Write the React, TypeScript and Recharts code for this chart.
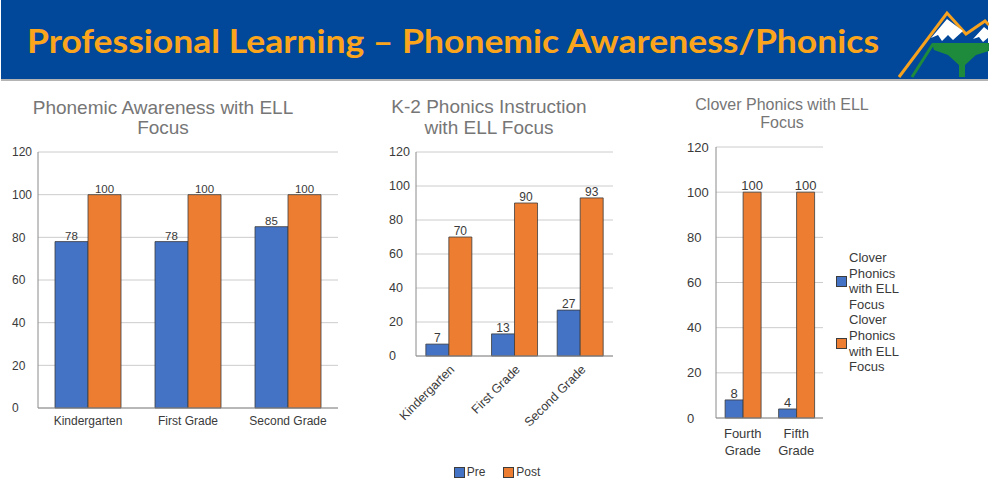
import React from 'react';
import { Bar, BarChart, CartesianGrid, LabelList, Legend, XAxis, YAxis } from 'recharts';

const gradesK2 = ['Kindergarten', 'First Grade', 'Second Grade'];
const awarenessPre = [78, 78, 85];
const awarenessPost = [100, 100, 100];

const phonicsPre = [7, 13, 27];
const phonicsPost = [70, 90, 93];

const gradesUpper = ['Fourth Grade', 'Fifth Grade'];
const cloverPre = [8, 4];
const cloverPost = [100, 100];

const yTicks = [0, 20, 40, 60, 80, 100, 120];

const BLUE = '#4472c4';
const ORANGE = '#ed7d31';
const OUTLINE = '#3c3c3c';
const GRID = '#cccccc';
const AXIS = '#8a8a8a';
const INK = '#3a3a3a';
const TITLE = '#767676';
const FONT = '"Liberation Sans", Arial, sans-serif';

const toRows = (cats: string[], pre: number[], post: number[]) =>
  cats.map((name, i) => ({ name, pre: pre[i], post: post[i] }));

const awarenessData = toRows(gradesK2, awarenessPre, awarenessPost);
const phonicsData = toRows(gradesK2, phonicsPre, phonicsPost);
const cloverData = toRows(gradesUpper, cloverPre, cloverPost);

// y labels in the source are left-aligned at a fixed x
function LeftTick({ y, payload, labelX, fontSize }: any) {
  return (
    <text x={labelX} y={y} dy="0.35em" textAnchor="start" fill={INK} fontSize={fontSize} fontFamily={FONT}>
      {payload.value}
    </text>
  );
}

function SlantTick({ x, y, payload }: any) {
  return (
    <g transform={`translate(${x},${y})`}>
      <text textAnchor="end" dy="0.71em" transform="rotate(-45)" fill={INK} fontSize={12.5} fontFamily={FONT}>
        {payload.value}
      </text>
    </g>
  );
}

function TwoLineTick({ x, y, payload }: any) {
  const words = String(payload.value).split(' ');
  return (
    <text x={x} y={y} textAnchor="middle" fill={INK} fontSize={13} fontFamily={FONT}>
      <tspan x={x} dy={11.5}>{words[0]}</tspan>
      <tspan x={x} dy={17}>{words[1]}</tspan>
    </text>
  );
}

function Swatch({ color }: { color: string }) {
  return (
    <span
      style={{
        display: 'inline-block',
        width: 9,
        height: 9,
        background: color,
        border: `1px solid ${OUTLINE}`,
        flexShrink: 0,
      }}
    />
  );
}

function PrePostLegend() {
  return (
    <div style={{ display: 'flex', justifyContent: 'center', alignItems: 'center', height: 20, fontFamily: FONT, fontSize: 12, color: INK }}>
      <Swatch color={BLUE} />
      <span style={{ marginLeft: 2, marginRight: 18 }}>Pre</span>
      <Swatch color={ORANGE} />
      <span style={{ marginLeft: 2 }}>Post</span>
    </div>
  );
}

function CloverLegend() {
  const item = (color: string) => (
    <div style={{ display: 'flex', alignItems: 'center' }}>
      <Swatch color={color} />
      <span style={{ marginLeft: 2, width: 56, lineHeight: '15.6px' }}>Clover Phonics with ELL Focus</span>
    </div>
  );
  return (
    <div style={{ fontFamily: FONT, fontSize: 13, color: INK }}>
      {item(BLUE)}
      {item(ORANGE)}
    </div>
  );
}

function ChartTitle({ lines, centerX, top, fontSize, lineHeight }: any) {
  return (
    <div
      style={{
        position: 'absolute',
        left: centerX - 160,
        top,
        width: 320,
        textAlign: 'center',
        fontFamily: FONT,
        fontSize,
        lineHeight: `${lineHeight}px`,
        color: TITLE,
      }}
    >
      {lines.map((l: string) => (
        <div key={l}>{l}</div>
      ))}
    </div>
  );
}

function Header() {
  return (
    <svg width={989} height={82} style={{ position: 'absolute', left: 0, top: 0 }}>
      <rect x={1} y={0} width={987} height={79} fill="#01479a" />
      <rect x={1} y={79} width={987} height={2} fill="#b4b4b4" />
      <text
        x={27}
        y={53}
        fill="#fba51c"
        fontFamily="Lato, 'Open Sans', sans-serif"
        fontWeight={700}
        fontSize={33}
        textLength={852}
        lengthAdjust="spacingAndGlyphs"
      >
        Professional Learning – Phonemic Awareness/Phonics
      </text>
      {/* mountain logo */}
      <polyline points="899,77 947,13 966,34 985,21 989,25" fill="none" stroke="#f6a21e" strokeWidth={3} />
      <polygon points="947,19 931,38 938,35 942,41 948,35 953,40 963,31" fill="#ffffff" />
      <polygon points="984,27 973,39 979,37 983,42 989,37 989,31" fill="#ffffff" />
      <line x1={912} y1={77} x2={933} y2={44} stroke="#1e8a3c" strokeWidth={3} />
      <polygon points="932,43 989,43 989,51 976,55 965,65 965,77 959,77 959,65 948,55 934,50" fill="#1e8a3c" />
    </svg>
  );
}

function Bars({ labelSize }: { labelSize: number }) {
  return (
    <>
      <Bar dataKey="pre" name="Pre" fill={BLUE} stroke={OUTLINE} strokeWidth={0.8} isAnimationActive={false}>
        <LabelList dataKey="pre" position="top" offset={2} fill={INK} fontSize={labelSize} fontFamily={FONT} />
      </Bar>
      <Bar dataKey="post" name="Post" fill={ORANGE} stroke={OUTLINE} strokeWidth={0.8} isAnimationActive={false}>
        <LabelList dataKey="post" position="top" offset={2} fill={INK} fontSize={labelSize} fontFamily={FONT} />
      </Bar>
    </>
  );
}

export default function App() {
  return (
    <div style={{ position: 'absolute', left: 0, top: 0, width: 989, height: 482, background: '#fff', overflow: 'hidden' }}>
      <Header />

      <ChartTitle lines={['Phonemic Awareness with ELL', 'Focus']} centerX={163} top={98} fontSize={19} lineHeight={20} />
      <div style={{ position: 'absolute', left: 0, top: 140 }}>
        <BarChart width={345} height={300} data={awarenessData} margin={{ top: 12, right: 7, left: 8, bottom: 2 }} barCategoryGap="17%" barGap={0}>
          <CartesianGrid stroke={GRID} vertical={false} />
          <XAxis dataKey="name" height={30} tickLine={false} stroke={AXIS} tick={{ fill: INK, fontSize: 12, fontFamily: FONT }} />
          <YAxis width={30} domain={[0, 120]} ticks={yTicks} tickLine={false} stroke={AXIS} tick={<LeftTick labelX={12} fontSize={12} />} />
          {Bars({ labelSize: 11.5 })}
        </BarChart>
      </div>

      <ChartTitle lines={['K-2 Phonics Instruction', 'with ELL Focus']} centerX={489} top={96} fontSize={19} lineHeight={21} />
      <div style={{ position: 'absolute', left: 355, top: 140 }}>
        <BarChart width={270} height={345} data={phonicsData} margin={{ top: 12, right: 12, left: 31, bottom: 3 }} barCategoryGap="15%" barGap={0}>
          <CartesianGrid stroke={GRID} vertical={false} />
          <XAxis dataKey="name" height={106} tickLine={false} stroke={AXIS} interval={0} tick={<SlantTick />} />
          <YAxis width={30} domain={[0, 120]} ticks={yTicks} tickLine={false} stroke={AXIS} tick={<LeftTick labelX={34} fontSize={12.5} />} />
          {Bars({ labelSize: 12 })}
          <Legend
            layout="horizontal"
            verticalAlign="bottom"
            align="center"
            content={<PrePostLegend />}
            wrapperStyle={{ left: 14, width: 256, bottom: 3, height: 20 }}
          />
        </BarChart>
      </div>

      <ChartTitle lines={['Clover Phonics with ELL', 'Focus']} centerX={782} top={96} fontSize={16} lineHeight={18} />
      <div style={{ position: 'absolute', left: 660, top: 130 }}>
        <BarChart width={329} height={345} data={cloverData} margin={{ top: 17, right: 16, left: 26, bottom: 17 }} barCategoryGap="17%" barGap={0}>
          <CartesianGrid stroke={GRID} vertical={false} />
          <XAxis dataKey="name" height={40} tickLine={false} stroke={AXIS} interval={0} tick={<TwoLineTick />} />
          <YAxis width={30} domain={[0, 120]} ticks={yTicks} tickLine={false} stroke={AXIS} tick={<LeftTick labelX={27} fontSize={13} />} />
          {Bars({ labelSize: 13 })}
          <Legend
            layout="vertical"
            verticalAlign="middle"
            align="right"
            content={<CloverLegend />}
            wrapperStyle={{ left: 176, top: 120, width: 150, height: 125 }}
          />
        </BarChart>
      </div>
    </div>
  );
}
